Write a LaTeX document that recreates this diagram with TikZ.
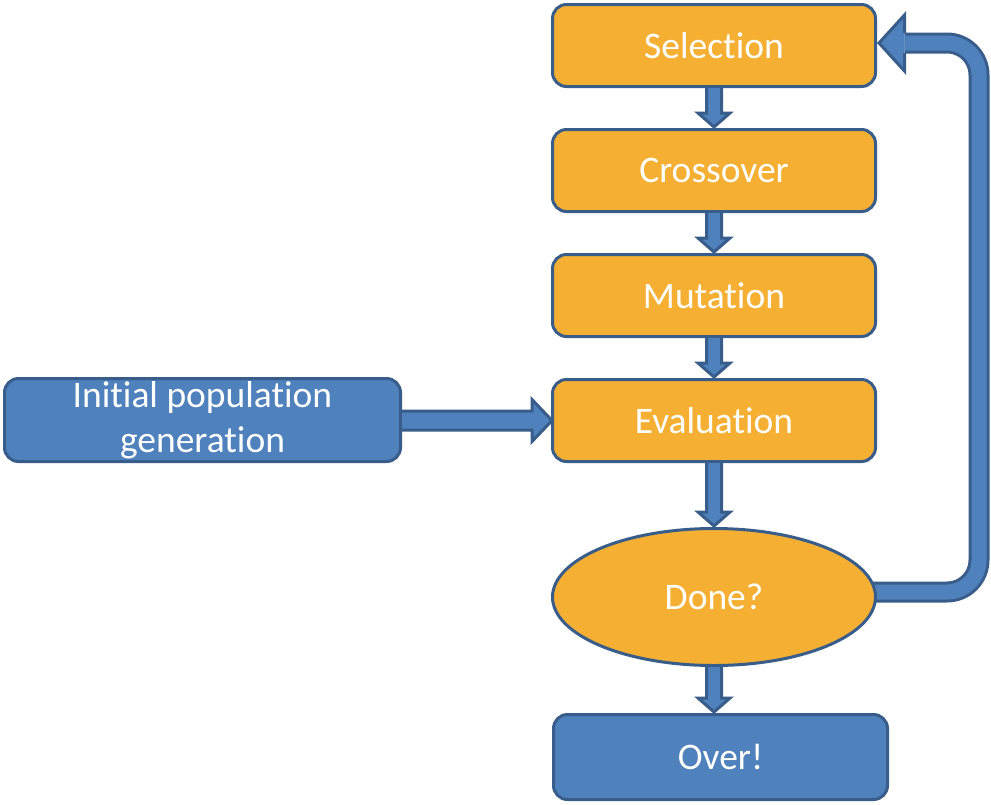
\documentclass[tikz,border=0pt]{standalone}
\usepackage{fontspec}
\setmainfont{Carlito}[RawFeature={-liga;-clig;-dlig}]
\usetikzlibrary{shapes.geometric,calc}
\definecolor{orfill}{HTML}{F5AF33}
\definecolor{blfill}{HTML}{4F81BD}
\definecolor{bldraw}{HTML}{385D8A}
\tikzset{
  stepbox/.style={draw=bldraw, fill=orfill, line width=3pt, rounded corners=14pt,
    minimum width=323pt, minimum height=82pt, inner sep=0pt, text=white,
    font=\fontsize{37.5}{44.5}\selectfont, align=center},
  bluebox/.style={stepbox, fill=blfill},
  barrow/.style={draw=bldraw, fill=blfill, line width=3pt, line join=miter},
}
\newcommand\varr[2]{\path[barrow] let \p1=(#1.south), \p2=(#2.north) in
  (\x1-7.5pt,\y1) -- (\x1-7.5pt,\y2+15pt) -- (\x1-16pt,\y2+15pt) -- (\x1,\y2+1pt)
  -- (\x1+16pt,\y2+15pt) -- (\x1+7.5pt,\y2+15pt) -- (\x1+7.5pt,\y1);}
\begin{document}
\begin{tikzpicture}[x=1pt,y=-1pt]
\useasboundingbox (0,0) rectangle (991,804);
% loop arrow shaft (drawn first, under the ellipse)
\coordinate (lc1) at (979,592);
\coordinate (lc2) at (979,43);
\coordinate (lhead) at (904.5,43);
\draw[bldraw, line width=21pt, rounded corners=32pt] (850,592) -- (lc1) -- (lc2) -- (lhead);
\draw[blfill, line width=15pt, rounded corners=32pt] (850,592) -- (lc1) -- (lc2) -- (lhead);
\node[stepbox] (sel) at (714,45.5) {Selection};
\node[stepbox] (cro) at (714,170.5) {Crossover};
\node[stepbox] (mut) at (714,295.5) {Mutation};
\node[stepbox] (eva) at (714,420.5) {Evaluation};
\node[bluebox, minimum width=396pt, minimum height=83pt] (ini) at (202.5,420) {\raisebox{-2.5pt}{\parbox{396pt}{\centering Initial population\\generation}}};
\node[ellipse, draw=bldraw, fill=orfill, line width=3pt, minimum width=323pt, minimum height=137pt,
  inner sep=0pt, text=white, font=\fontsize{37.5}{44}\selectfont] (don) at (714,597) {Done?};
\node[bluebox, minimum width=334pt, minimum height=85pt] (ovr) at (720.5,757) {Over!};
% loop arrow head
\path[barrow] ($(lhead)+(0,10)$) -- ($(lhead)+(0,28)$) -- ($(sel.east)+(2,-2.5)$) -- ($(lhead)+(0,-28)$) -- ($(lhead)+(0,-10)$);
% straight block arrows
\varr{sel}{cro}
\varr{cro}{mut}
\varr{mut}{eva}
\varr{eva}{don}
\varr{don}{ovr}
\path[barrow] let \p1=(ini.east), \p2=(eva.west) in
  (\x1,\y2+9.5pt) -- (\x2-19pt,\y2+9.5pt) -- (\x2-19pt,\y2+21pt) -- (\x2+1pt,\y2)
  -- (\x2-19pt,\y2-21pt) -- (\x2-19pt,\y2-9.5pt) -- (\x1,\y2-9.5pt);
\end{tikzpicture}
\end{document}
